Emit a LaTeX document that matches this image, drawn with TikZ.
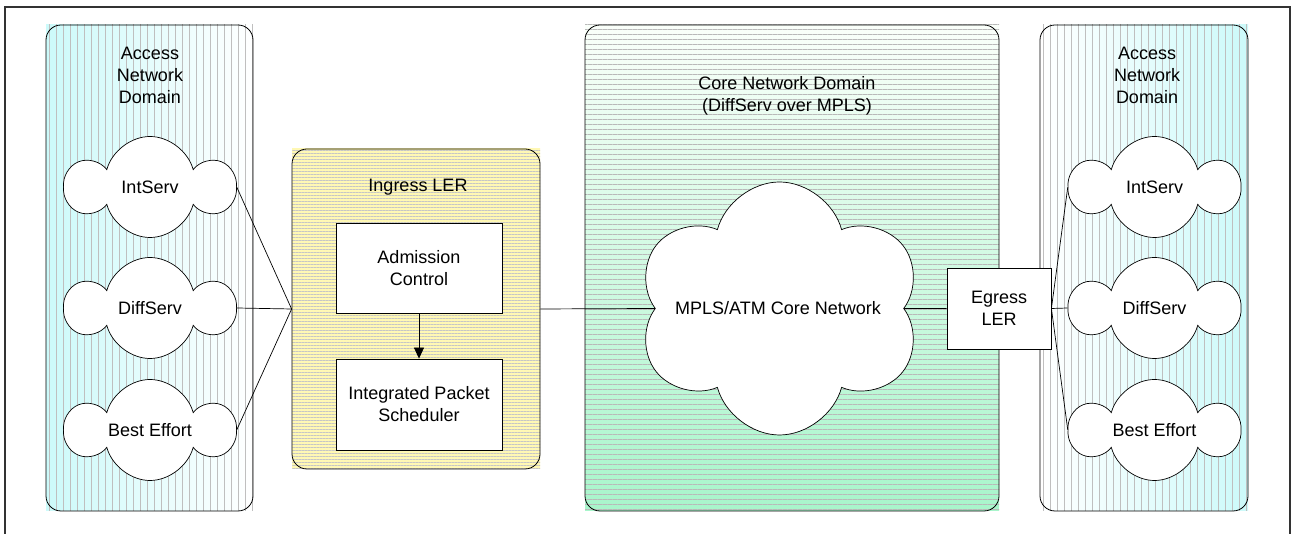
\documentclass[tikz,border=0pt]{standalone}
\usepackage{fontspec}
\setmainfont{Liberation Sans}
\usetikzlibrary{arrows.meta,%
		patterns.meta,%
		positioning,%
		shapes,%
		shapes.symbols}
\definecolor{accesscyan}{HTML}{CCFAFA}
\definecolor{coregreen}{HTML}{A8F5CB}
\definecolor{leryellow}{HTML}{FFF8B4}
\tikzset{
  domainbox/.style={draw, rounded corners=15pt, line width=0.8pt, inner sep=0pt},
  puff/.style={cloud, cloud puffs=6, cloud puff arc=150, cloud ignores aspect, draw, fill=white,
    inner sep=0pt, line width=0.7pt},
  box/.style={draw, fill=white, line width=0.8pt, align=center, inner sep=0pt},
  link/.style={line width=0.7pt},
}

\begin{document}
\begin{tikzpicture}[x=1pt,y=1pt,font=\fontsize{18}{22}\selectfont]
  \useasboundingbox (0,0) rectangle (1293,534);
  \draw [line width=1.2pt, black!80] (5,-5) rectangle (1290,527); %frame

  % backgrounds
  \shade [left color=accesscyan, right color=white] (46,23) rectangle (253,509);
  \path [pattern={Lines[angle=90,distance=7pt,line width=0.5pt]}, pattern color=gray!50] (46,23) rectangle (253,509);
  \shade [left color=white, right color=accesscyan] (1040,23) rectangle (1248,509);
  \path [pattern={Lines[angle=90,distance=7pt,line width=0.5pt]}, pattern color=gray!50] (1040,23) rectangle (1248,509);
  \shade [top color=green!2, bottom color=coregreen] (585,23) rectangle (999,509);
  \path [pattern={Lines[angle=0,distance=5pt,line width=0.5pt]}, pattern color=gray!55] (585,23) rectangle (999,509);
  \shade [top color=leryellow, middle color=white, bottom color=leryellow] (292,65) rectangle (540,385);
  \path [pattern={Lines[angle=0,distance=3pt,line width=0.4pt]}, pattern color=gray!45] (292,65) rectangle (540,385);

  % domains
  \node [domainbox, minimum width=207pt, minimum height=486pt] (accL) at (149.5,266) {};
  \node [domainbox, minimum width=208pt, minimum height=486pt] (accR) at (1144,266) {};
  \node [domainbox, minimum width=414pt, minimum height=486pt] (core) at (792,266) {};
  \node [domainbox, minimum width=248pt, minimum height=320pt] (ingress) at (416,225) {};
  \node [align=center] (accLtitle) at (150,459) {Access\\Network\\Domain};
  \node [align=center] (accRtitle) at (1147,459) {Access\\Network\\Domain};
  \node [align=center] (coretitle) at (787,438) {Core Network Domain\\(DiffServ over MPLS)};
  \node (ingtitle) at (418,347) {Ingress LER};

  % clouds
  \node [puff, minimum width=165pt, minimum height=101pt] (intL) at (150,347) {IntServ};
  \node [puff, minimum width=165pt, minimum height=101pt] (diffL) at (150,226) {DiffServ};
  \node [puff, minimum width=165pt, minimum height=101pt] (bestL) at (150,104) {Best Effort};
  \node [puff, minimum width=165pt, minimum height=101pt] (intR) at (1154.5,347) {IntServ};
  \node [puff, minimum width=165pt, minimum height=101pt] (diffR) at (1154.5,226) {DiffServ};
  \node [puff, minimum width=165pt, minimum height=101pt] (bestR) at (1154.5,104) {Best Effort};
  \node [puff, minimum width=285pt, minimum height=253pt] (mpls) at (779.5,225.5) {};
  \node (mplstext) at (778,226) {MPLS/ATM Core Network};

  % boxes
  \node [box, minimum width=166pt, minimum height=90pt] (adm) at (419,266) {Admission\\Control};
  \node [box, minimum width=166pt, minimum height=91pt] (sched) at (419,129.5) {Integrated Packet\\Scheduler};
  \node [box, minimum width=104pt, minimum height=81pt] (egress) at (999,225.5) {Egress\\LER};

  % links
  \draw [link, -{Triangle[length=11pt,width=10pt]}] (adm) -- (sched);
  \draw [link] (intL.east) -- (ingress.west);
  \draw [link] (diffL.east) -- (ingress.west);
  \draw [link] (bestL.east) -- (ingress.west);
  \draw [link] (ingress.east) -- (mpls.west);
  \draw [link] (mpls.east) -- (egress.west);
  \draw [link] (egress.east) -- (intR.west);
  \draw [link] (egress.east) -- (diffR.west);
  \draw [link] (egress.east) -- (bestR.west);
\end{tikzpicture}
\end{document}
